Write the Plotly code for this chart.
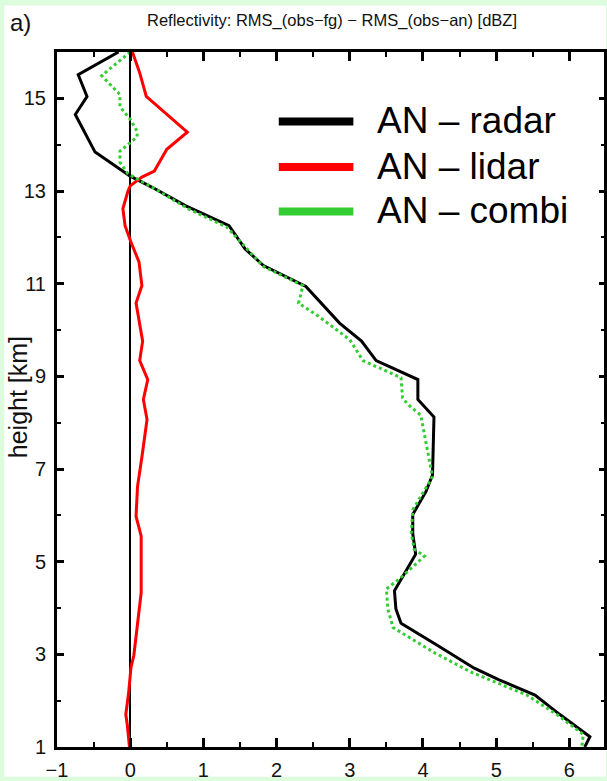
import plotly.graph_objects as go

# ---------------- data ----------------
radar_h = [16.0, 15.51, 15.04, 14.65, 13.84, 13.32, 13.08, 12.68, 12.25, 11.75, 11.39, 11.0, 10.94,
           10.15, 9.76, 9.34, 8.93, 8.50, 8.12, 6.87, 6.51, 6.02, 5.61, 5.16, 4.91, 4.37, 3.98,
           3.67, 3.19, 2.70, 2.45, 2.12, 1.70, 1.22, 1.0]
radar_x = [-0.16, -0.71, -0.59, -0.75, -0.48, 0.0, 0.30, 0.76, 1.35, 1.57, 1.82, 2.34, 2.40,
           2.86, 3.16, 3.36, 3.93, 3.93, 4.15, 4.13, 4.04, 3.86, 3.86, 3.90, 3.81, 3.61, 3.63,
           3.70, 4.20, 4.70, 5.04, 5.53, 5.87, 6.28, 6.21]

lidar_h = [16.0, 15.55, 15.04, 14.27, 13.90, 13.43, 13.30, 13.11, 13.0, 12.62, 12.25, 11.90,
           11.47, 10.96, 10.58, 9.76, 9.34, 8.93, 8.50, 8.07, 7.26, 6.62, 5.98, 5.55, 4.33,
           3.47, 2.98, 2.71, 2.19, 1.70, 1.48, 1.0]
lidar_x = [0.03, 0.13, 0.22, 0.78, 0.50, 0.33, 0.16, 0.0, -0.03, -0.10, -0.07, 0.01,
           0.12, 0.16, 0.08, 0.17, 0.13, 0.24, 0.18, 0.23, 0.16, 0.10, 0.08, 0.15, 0.15,
           0.09, 0.05, 0.01, -0.02, -0.06, -0.04, -0.01]

combi_h = [16.0, 15.49, 15.08, 14.82, 14.55, 14.27, 14.16, 13.86, 13.62, 13.37, 13.08, 12.61,
           12.22, 11.37, 10.96, 10.58, 10.30, 9.79, 9.34, 8.97, 8.54, 8.40, 8.16, 6.83, 6.12,
           5.61, 5.27, 5.12, 4.63, 4.41, 3.98, 3.58, 3.04, 2.62, 2.12, 1.70, 1.27, 1.0]
combi_x = [0.0, -0.39, -0.14, -0.14, 0.0, 0.10, 0.09, -0.14, -0.14, -0.03, 0.30, 0.80,
           1.32, 1.82, 2.36, 2.30, 2.57, 3.00, 3.18, 3.70, 3.72, 3.79, 3.97, 4.13, 3.86,
           3.84, 3.88, 4.02, 3.68, 3.50, 3.52, 3.59, 4.15, 4.65, 5.42, 5.83, 6.19, 6.17]

legend_names = ["AN \u2013 radar", "AN \u2013 lidar", "AN \u2013 combi"]
legend_colors = ["#000000", "#ff0000", "#33cc33"]

x_tickvals = [-1, 0, 1, 2, 3, 4, 5, 6]
y_tickvals = [1, 3, 5, 7, 9, 11, 13, 15]

# ---------------- figure ----------------
W, H = 607, 781
L, R, T, B = 57, 0, 52, 28
PW, PH = W - L - R, H - T - B

def px(xp):
    return (xp - L) / PW

def py(yp):
    return (H - B - yp) / PH

SANS = "Liberation Sans, Arial, sans-serif"

fig = go.Figure()
fig.add_trace(go.Scatter(x=radar_x, y=radar_h, mode="lines", name=legend_names[0],
                         line=dict(color=legend_colors[0], width=3), showlegend=False))
fig.add_trace(go.Scatter(x=lidar_x, y=lidar_h, mode="lines", name=legend_names[1],
                         line=dict(color=legend_colors[1], width=3), showlegend=False))
fig.add_trace(go.Scatter(x=combi_x, y=combi_h, mode="lines", name=legend_names[2],
                         line=dict(color=legend_colors[2], width=3, dash="dot"), showlegend=False))
# helper trace so the right-hand tick axis is drawn
fig.add_trace(go.Scatter(x=[None], y=[None], yaxis="y2", showlegend=False, hoverinfo="skip"))

shapes = [
    dict(type="rect", xref="paper", yref="paper", x0=px(4), x1=px(W + 2), y0=py(H + 2), y1=py(5),
         fillcolor="white", line=dict(width=0), layer="below"),
]
annotations = [
    dict(text="Reflectivity: RMS_(obs\u2212fg) \u2212 RMS_(obs\u2212an) [dBZ]", x=px(334), y=py(20),
         xref="paper", yref="paper", showarrow=False, xanchor="center", yanchor="middle",
         font=dict(family=SANS, size=16.5, color="#111")),
    dict(text="a)", x=px(20), y=py(22), xref="paper", yref="paper", showarrow=False,
         xanchor="center", yanchor="middle", font=dict(family=SANS, size=24, color="#111")),
    dict(text="height [km]", x=px(18), y=py(400), xref="paper", yref="paper", showarrow=False,
         textangle=-90, xanchor="center", yanchor="middle", font=dict(family=SANS, size=25, color="#111")),
]
leg_y = [122, 168, 213]
for name, col, yy in zip(legend_names, legend_colors, leg_y):
    shapes.append(dict(type="line", xref="paper", yref="paper", x0=px(280), x1=px(355),
                       y0=py(yy), y1=py(yy), line=dict(color=col, width=8)))
    annotations.append(dict(text=name, x=px(377), y=py(yy - 1), xref="paper", yref="paper",
                            showarrow=False, xanchor="left", yanchor="middle",
                            font=dict(family=SANS, size=37, color="black")))

fig.update_layout(
    width=W, height=H,
    margin=dict(l=L, r=R, t=T, b=B, pad=0),
    paper_bgcolor="#ddfbdd",
    plot_bgcolor="white",
    showlegend=False,
    shapes=shapes,
    annotations=annotations,
    xaxis=dict(range=[-1, -1 + PW / 73.6], tickvals=x_tickvals, ticks="inside", ticklen=9, tickwidth=2.5,
               tickcolor="black", showline=True, linewidth=3, linecolor="black", mirror="ticks",
               showgrid=False, zeroline=True, zerolinecolor="black", zerolinewidth=2,
               minor=dict(ticks="inside", dtick=0.5, tick0=0, ticklen=5, tickwidth=2, tickcolor="black",
                          showgrid=False),
               tickfont=dict(family=SANS, size=20, color="#111"), ticklabelstandoff=3),
    yaxis=dict(range=[1, 16], tickvals=y_tickvals, ticks="inside", ticklen=7, tickwidth=2.5,
               tickcolor="black", showline=True, linewidth=3, linecolor="black", mirror=True,
               showgrid=False, zeroline=False,
               minor=dict(ticks="inside", dtick=1, tick0=0, ticklen=4, tickwidth=2, tickcolor="black",
                          showgrid=False),
               tickfont=dict(family=SANS, size=20, color="#111"), ticklabelstandoff=4),
    yaxis2=dict(range=[1, 16], overlaying="y", side="right", tickvals=y_tickvals, ticks="inside",
                ticklen=5, tickwidth=2.5, tickcolor="black", showline=False, showgrid=False,
                zeroline=False, showticklabels=False,
                minor=dict(ticks="inside", dtick=1, tick0=0, ticklen=3, tickwidth=2, tickcolor="black",
                           showgrid=False)),
)

fig.write_html("out.html")
